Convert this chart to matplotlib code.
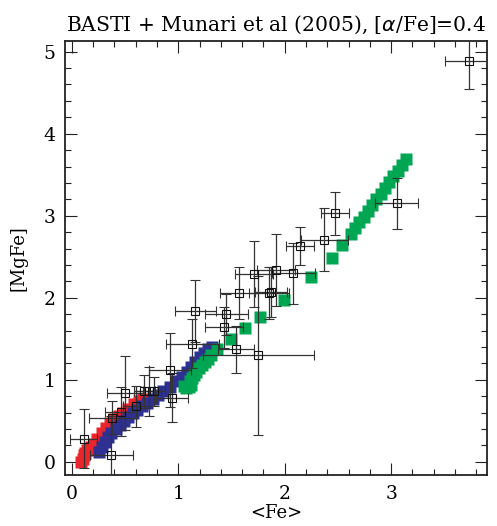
import matplotlib
matplotlib.use("Agg")
import matplotlib.pyplot as plt
from matplotlib.ticker import MultipleLocator

# Model sequences (BaSTI)
red_x = [0.09, 0.10, 0.11, 0.12, 0.14, 0.16, 0.18, 0.21, 0.24, 0.28, 0.32, 0.36, 0.40, 0.44, 0.48, 0.53, 0.58, 0.63, 0.67]
red_y = [0.00, 0.04, 0.08, 0.11, 0.14, 0.16, 0.18, 0.22, 0.28, 0.35, 0.41, 0.47, 0.52, 0.56, 0.60, 0.65, 0.70, 0.74, 0.77]

blue_x = [0.25, 0.28, 0.31, 0.34, 0.37, 0.41, 0.45, 0.49, 0.53, 0.57, 0.61, 0.66, 0.71, 0.76, 0.81, 0.86,
          0.92, 0.98, 1.03, 1.08, 1.12, 1.16, 1.20, 1.24, 1.28, 1.32]
blue_y = [0.12, 0.18, 0.24, 0.30, 0.35, 0.40, 0.45, 0.50, 0.55, 0.59, 0.63, 0.68, 0.72, 0.77, 0.81, 0.86,
          0.91, 0.98, 1.03, 1.10, 1.16, 1.22, 1.28, 1.33, 1.37, 1.40]

green_x = [1.05, 1.07, 1.10, 1.12, 1.11, 1.13, 1.15, 1.17, 1.19, 1.22, 1.25, 1.28, 1.31, 1.36, 1.49, 1.63, 1.77,
           1.99, 2.25, 2.44, 2.54, 2.62, 2.66, 2.70, 2.74, 2.78, 2.82, 2.86, 2.90, 2.94, 2.98, 3.02, 3.06,
           3.10, 3.14]
green_y = [0.92, 0.90, 0.91, 0.94, 0.98, 1.02, 1.06, 1.10, 1.14, 1.18, 1.22, 1.26, 1.30, 1.38, 1.50, 1.63, 1.76,
           1.97, 2.25, 2.48, 2.64, 2.78, 2.85, 2.92, 2.99, 3.06, 3.13, 3.20, 3.27, 3.34, 3.41, 3.48, 3.55,
           3.62, 3.69]

# Observed clusters (Munari et al 2005)
obs_x = [0.11, 0.37, 0.38, 0.46, 0.50, 0.60, 0.68, 0.72, 0.77, 0.92, 0.94, 1.13, 1.16, 1.45, 1.43,
         1.54, 1.75, 1.57, 1.71, 1.85, 1.87, 1.92, 2.08, 2.14, 2.37, 2.47, 3.05, 3.73]
obs_y = [0.28, 0.08, 0.54, 0.61, 0.84, 0.68, 0.86, 0.86, 0.86, 1.12, 0.78, 1.44, 1.84, 1.80, 1.64,
         1.37, 1.30, 2.06, 2.29, 2.06, 2.07, 2.34, 2.30, 2.63, 2.71, 3.03, 3.15, 4.89]
obs_xerr = [0.13, 0.20, 0.22, 0.15, 0.17, 0.12, 0.10, 0.12, 0.10, 0.20, 0.15, 0.25, 0.19, 0.20, 0.18,
            0.17, 0.52, 0.18, 0.18, 0.19, 0.15, 0.18, 0.20, 0.13, 0.22, 0.13, 0.20, 0.22]
obs_yerr = [0.36, 0.48, 0.20, 0.30, 0.45, 0.25, 0.20, 0.30, 0.18, 0.45, 0.30, 0.30, 0.38, 0.25, 0.25,
            0.29, 0.97, 0.32, 0.40, 0.32, 0.30, 0.44, 0.37, 0.23, 0.38, 0.26, 0.31, 0.35]

x_ticks = [0, 1, 2, 3]
y_ticks = [0, 1, 2, 3, 4, 5]

font = "DejaVu Serif"
plt.rcParams['font.family'] = [font]

fig = plt.figure(figsize=(4.97, 5.26), dpi=100)
ax = fig.add_axes([65/497, 51/526, 422/497, 434/526])

ms = 8.0
ax.plot(red_x, red_y, 's', color='#E8262C', ms=ms, mec='none', zorder=2)
ax.plot(blue_x, blue_y, 's', color='#2E3192', ms=ms, mec='none', zorder=3)
ax.plot(green_x, green_y, 's', color='#00A651', ms=ms, mec='none', zorder=4)

ax.errorbar(obs_x, obs_y, xerr=obs_xerr, yerr=obs_yerr, fmt='s', ms=5.5, mfc='none', mec='#111111',
            mew=0.8, ecolor='#333333', elinewidth=0.9, capsize=3.5, capthick=0.9, zorder=5)

ax.set_xlim(-0.065, 3.9)
ax.set_ylim(-0.16, 5.13)
ax.set_xticks(x_ticks)
ax.set_yticks(y_ticks)
ax.xaxis.set_minor_locator(MultipleLocator(0.2))
ax.yaxis.set_minor_locator(MultipleLocator(0.2))
ax.tick_params(which='both', direction='in', top=True, right=True, width=0.8, color='#222222')
ax.tick_params(which='major', length=8.5, labelsize=13.5, pad=7)
ax.tick_params(which='minor', length=4.3)
for s in ax.spines.values():
    s.set_linewidth(1.3)
    s.set_color('#222222')

ax.set_xlabel('<Fe>', fontsize=13, labelpad=1)
ax.set_ylabel('[MgFe]', fontsize=13, labelpad=11)
ax.set_title(r'BASTI + Munari et al (2005), [$\alpha$/Fe]=0.4', fontsize=14.6, pad=7)

fig.savefig('out.png', dpi=100)
